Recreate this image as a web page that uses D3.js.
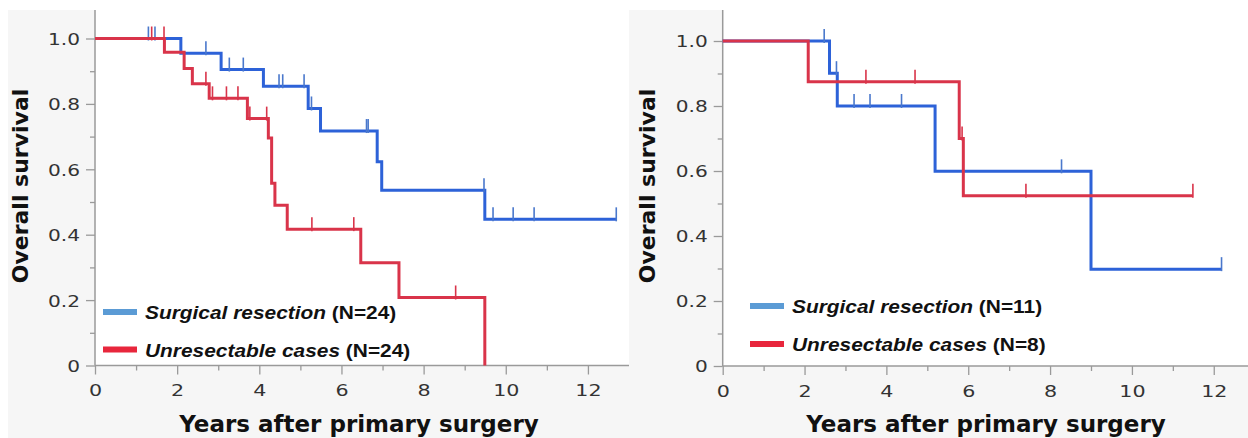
<!DOCTYPE html>
<html>
<head>
<meta charset="utf-8">
<script src="https://cdn.jsdelivr.net/npm/d3@7"></script>
<style>
  html, body { margin: 0; padding: 0; background: #ffffff; }
  svg { display: block; }
</style>
</head>
<body>
<svg id="chart" width="1248" height="438"></svg>
<script>
// ---------------- DATA ----------------
const xTicks = [0, 2, 4, 6, 8, 10, 12];
const xMinorTicks = [1, 3, 5, 7, 9, 11];
const yTicks = [0, 0.2, 0.4, 0.6, 0.8, 1.0];
const yTickLabels = ["0", "0.2", "0.4", "0.6", "0.8", "1.0"];
const yMinorTicks = [0.1, 0.3, 0.5, 0.7, 0.9];
const seriesNames = ["Surgical resection", "Unresectable cases"];
const leftCounts = ["(N=24)", "(N=24)"];
const rightCounts = ["(N=11)", "(N=8)"];
const xTitle = "Years after primary surgery";
const yTitle = "Overall survival";

// Left panel – surgical resection
const leftResectionTimes = [0, 2.09, 3.07, 4.10, 5.19, 5.49, 6.87, 6.98, 9.49, 12.69];
const leftResectionSurv  = [1, 0.955, 0.905, 0.854, 0.786, 0.717, 0.623, 0.536, 0.447, 0.447];
const leftResectionCensor = [1.30, 1.46, 2.70, 3.27, 3.61, 4.48, 4.57, 5.09, 5.27, 6.61, 6.65, 9.47, 9.69, 10.18, 10.69, 12.69];
// Left panel – unresectable
const leftUnresTimes = [0, 1.69, 2.17, 2.37, 2.78, 3.71, 4.22, 4.30, 4.38, 4.68, 6.47, 7.40, 9.49];
const leftUnresSurv  = [1, 0.958, 0.908, 0.862, 0.817, 0.755, 0.696, 0.557, 0.490, 0.417, 0.314, 0.208, 0];
const leftUnresCensor = [1.38, 1.68, 2.70, 2.86, 3.20, 3.48, 3.77, 4.18, 5.28, 6.30, 8.78];

// Right panel – surgical resection
const rightResectionTimes = [0, 2.61, 2.80, 5.19, 9.00, 12.19];
const rightResectionSurv  = [1, 0.901, 0.800, 0.599, 0.298, 0.298];
const rightResectionCensor = [2.48, 2.78, 3.21, 3.60, 4.37, 8.28, 12.19];
// Right panel – unresectable
const rightUnresTimes = [0, 2.09, 5.78, 5.88, 11.49];
const rightUnresSurv  = [1, 0.875, 0.700, 0.524, 0.524];
const rightUnresCensor = [3.50, 4.70, 5.85, 7.41, 11.49];

// ---------------- STYLE ----------------
const lineColors = ["#2d62d8", "#d9344a"];
const censorColors = ["#4a78cc", "#d9344a"];
const swatchColors = ["#5b9bd5", "#e8263c"];

const svg = d3.select("#chart");

function drawPanel(cfg) {
  const g = svg.append("g");
  g.append("rect").attr("x", cfg.panel[0]).attr("y", cfg.panel[1])
    .attr("width", cfg.panel[2]).attr("height", cfg.panel[3]).attr("fill", "#f6f6f6");
  const x = d3.scaleLinear().domain(cfg.xDomain).range(cfg.xRange);
  const y = d3.scaleLinear().domain([0, 1]).range(cfg.yRange);
  g.append("rect").attr("x", x(0)).attr("y", 0)
    .attr("width", cfg.plotRight - x(0)).attr("height", y(0))
    .attr("fill", "#ffffff");

  const axisColor = "#9a9a9a";
  const yAxis = g.append("g").attr("transform", `translate(${x(0)},0)`)
    .call(d3.axisLeft(y).tickValues(yTicks).tickSize(9).tickFormat((d, i) => yTickLabels[i]));
  const yMinor = g.append("g").attr("transform", `translate(${x(0)},0)`)
    .call(d3.axisLeft(y).tickValues(yMinorTicks).tickSize(5).tickFormat(""));
  const xAxis = g.append("g").attr("transform", `translate(0,${y(0)})`)
    .call(d3.axisBottom(x).tickValues(xTicks).tickSize(9));
  const xMinor = g.append("g").attr("transform", `translate(0,${y(0)})`)
    .call(d3.axisBottom(x).tickValues(xMinorTicks).tickSize(5).tickFormat(""));
  [yAxis, yMinor, xAxis, xMinor].forEach(a => {
    a.select(".domain").remove();
    a.selectAll("line").attr("stroke", axisColor).attr("stroke-width", 1.3);
  });
  yAxis.selectAll("text")
    .attr("x", 0).attr("dy", "0.36em")
    .attr("transform", "translate(-15,0) scale(1.22,1)")
    .attr("fill", "#333").attr("font-family", "DejaVu Sans").attr("font-size", 16.5);
  xAxis.selectAll("text")
    .attr("y", 0).attr("dy", 0)
    .attr("transform", "translate(0,30.5) scale(1.25,1)")
    .attr("fill", "#333").attr("font-family", "DejaVu Sans").attr("font-size", 16.5);
  g.append("line").attr("x1", x(0)).attr("x2", x(0)).attr("y1", 10).attr("y2", y(0))
    .attr("stroke", axisColor).attr("stroke-width", 1.5);
  g.append("line").attr("x1", x(0)).attr("x2", cfg.plotRight).attr("y1", y(0)).attr("y2", y(0))
    .attr("stroke", axisColor).attr("stroke-width", 1.5);

  g.append("text").attr("transform", `translate(${cfg.yTitleX},${cfg.yTitleY}) rotate(-90)`)
    .attr("text-anchor", "middle").attr("font-family", "DejaVu Sans").attr("font-weight", "bold")
    .attr("font-size", 22).attr("fill", "#111").text(yTitle);
  g.append("text").attr("x", cfg.xTitleX).attr("y", 432)
    .attr("text-anchor", "middle").attr("font-family", "DejaVu Sans").attr("font-weight", "bold")
    .attr("font-size", 23).attr("fill", "#111").text(xTitle);

  const line = d3.line().x(d => x(d[0])).y(d => y(d[1])).curve(d3.curveStepAfter);
  cfg.series.forEach((s, i) => {
    const pts = s.times.map((t, k) => [t, s.surv[k]]);
    g.append("path").attr("d", line(pts)).attr("fill", "none")
      .attr("stroke", lineColors[i]).attr("stroke-width", 3);
    const level = t => {
      let v = 1;
      s.times.forEach((tt, k) => { if (tt <= t) v = s.surv[k]; });
      return v;
    };
    g.selectAll(null).data(s.censor).enter().append("line")
      .attr("x1", d => x(d)).attr("x2", d => x(d))
      .attr("y1", d => y(level(d)) - 12).attr("y2", d => y(level(d)) + 2)
      .attr("stroke", censorColors[i]).attr("stroke-width", 1.6);
  });

  cfg.counts.forEach((c, i) => {
    const ly = cfg.legendY[i];
    g.append("rect").attr("x", cfg.legendX).attr("y", ly - 3)
      .attr("width", 34).attr("height", 6).attr("fill", swatchColors[i]);
    const t = g.append("text")
      .attr("transform", `translate(${cfg.legendX + 42},${ly + 7}) scale(1.13,1)`)
      .attr("font-family", "Liberation Sans").attr("font-weight", "bold")
      .attr("font-size", 18.5).attr("fill", "#111");
    t.append("tspan").attr("font-style", "italic").text(seriesNames[i]);
    t.append("tspan").text(" " + c);
  });
}

drawPanel({
  panel: [8, 10, 622, 428],
  xDomain: [0, 13], xRange: [95, 629], plotRight: 629,
  yRange: [365.5, 38.5],
  yTitleX: 28, yTitleY: 186, xTitleX: 359,
  legendX: 103, legendY: [312, 349.5], counts: leftCounts,
  series: [
    { times: leftResectionTimes, surv: leftResectionSurv, censor: leftResectionCensor },
    { times: leftUnresTimes, surv: leftUnresSurv, censor: leftUnresCensor }
  ]
});

drawPanel({
  panel: [630, 10, 618, 428],
  xDomain: [0, 12.8], xRange: [722.7, 1246.5], plotRight: 1248,
  yRange: [366, 41],
  yTitleX: 655, yTitleY: 186, xTitleX: 986,
  legendX: 750, legendY: [306, 344], counts: rightCounts,
  series: [
    { times: rightResectionTimes, surv: rightResectionSurv, censor: rightResectionCensor },
    { times: rightUnresTimes, surv: rightUnresSurv, censor: rightUnresCensor }
  ]
});
</script>
</body>
</html>
